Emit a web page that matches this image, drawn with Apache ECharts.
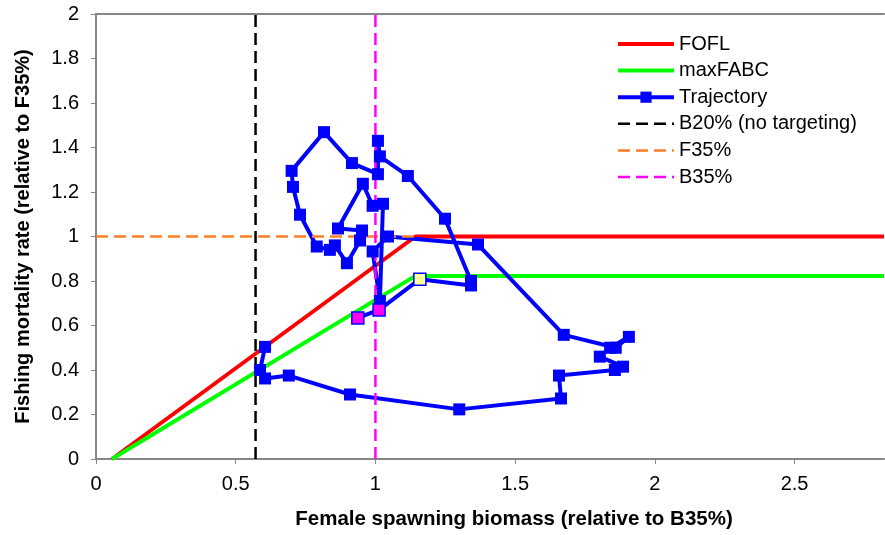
<!DOCTYPE html>
<html>
<head>
<meta charset="utf-8">
<script src="https://cdn.jsdelivr.net/npm/echarts@6/dist/echarts.min.js"></script>
<style>
html, body { margin: 0; padding: 0; background: #fff; }
#chart { width: 885px; height: 535px; }
</style>
</head>
<body>
<div id="chart"></div>
<script>
// harvest control rule (x = B/B35%, y = F/F35%)
var hcrX = [0.057, 1.143, 2.82];
var foflY = [0, 1, 1];
var abcY = [0, 0.823, 0.823];

// reference levels
var b20 = 0.571;
var f35 = 1;
var b35 = 1;

// stock trajectory, in time order
var trajB = [0.605, 0.587, 0.605, 0.69, 0.909, 1.30, 1.664, 1.657, 1.857, 1.886,
    1.803, 1.84, 1.907, 1.86, 1.674, 1.367, 1.045, 0.99, 1.016, 1.027,
    0.99, 0.955, 0.866, 0.952, 0.945, 0.898, 0.855, 0.837, 0.79, 0.73,
    0.705, 0.70, 0.816, 0.916, 1.009, 1.009, 1.016, 1.116, 1.249, 1.342,
    1.342, 1.159, 1.013, 0.937];
var trajF = [0.504, 0.40, 0.362, 0.375, 0.29, 0.223, 0.272, 0.375, 0.40, 0.415,
    0.46, 0.50, 0.549, 0.50, 0.558, 0.964, 1.0, 0.933, 0.71, 1.147,
    1.138, 1.237, 1.036, 1.027, 0.982, 0.88, 0.96, 0.94, 0.955, 1.098,
    1.223, 1.295, 1.469, 1.33, 1.28, 1.43, 1.36, 1.272, 1.08, 0.80,
    0.78, 0.808, 0.67, 0.634];
// last points: current year (yellow) and projections (magenta)
var trajFill = {41: '#ffff99', 42: '#ff00ff', 43: '#ff00ff'};

var xTicks = { min: 0, max: 2.82, interval: 0.5 };
var yTicks = { min: 0, max: 2, interval: 0.2 };

var chartDom = document.getElementById('chart');
var myChart = echarts.init(chartDom);
var option;

function pairs(xs, ys) {
    var out = [];
    for (var i = 0; i < xs.length; i++) {
        out.push([xs[i], ys[i]]);
    }
    return out;
}

var trajData = [];
for (var i = 0; i < trajB.length; i++) {
    var item = { value: [trajB[i], trajF[i]] };
    if (trajFill[i]) {
        item.itemStyle = { color: trajFill[i], borderColor: '#0000ff', borderWidth: 1.5 };
    }
    trajData.push(item);
}

var font = 'Liberation Sans';
var axisGray = '#868686';
// line-only legend entries: hide the marker ECharts puts on them
var noMark = { opacity: 0 };

option = {
    animation: false,
    backgroundColor: '#fff',
    textStyle: { fontFamily: font },
    grid: { left: 96, right: 1, top: 14, bottom: 73 },
    legend: {
        orient: 'vertical',
        left: 611,
        top: 29,
        itemWidth: 56,
        itemHeight: 14,
        itemGap: 6.6,
        textStyle: { fontFamily: font, fontSize: 20, color: '#000' },
        data: [
            { name: 'FOFL', itemStyle: noMark, lineStyle: { width: 4 } },
            { name: 'maxFABC', itemStyle: noMark, lineStyle: { width: 4 } },
            { name: 'Trajectory', lineStyle: { width: 4 } },
            { name: 'B20% (no targeting)', itemStyle: noMark, lineStyle: { width: 2.5 } },
            { name: 'F35%', itemStyle: noMark, lineStyle: { width: 2.5 } },
            { name: 'B35%', itemStyle: noMark, lineStyle: { width: 2.5 } }
        ]
    },
    xAxis: [{
        type: 'value',
        min: xTicks.min,
        max: xTicks.max,
        interval: xTicks.interval,
        name: 'Female spawning biomass (relative to B35%)',
        nameLocation: 'middle',
        nameGap: 50,
        nameTextStyle: { fontFamily: font, fontSize: 20.5, fontWeight: 'bold', color: '#000', padding: [0, 0, 0, 48] },
        axisLine: { lineStyle: { color: axisGray, width: 2 } },
        axisTick: { show: true, length: 5, lineStyle: { color: axisGray } },
        axisLabel: { fontFamily: font, fontSize: 20, color: '#000', margin: 15, showMaxLabel: false },
        splitLine: { show: false }
    }, {
        type: 'value',
        position: 'top',
        min: xTicks.min,
        max: xTicks.max,
        axisLine: { show: true, onZero: false, lineStyle: { color: axisGray, width: 2 } },
        axisTick: { show: false },
        axisLabel: { show: false },
        splitLine: { show: false }
    }],
    yAxis: {
        type: 'value',
        min: yTicks.min,
        max: yTicks.max,
        interval: yTicks.interval,
        name: 'Fishing mortality rate (relative to F35%)',
        nameLocation: 'middle',
        nameGap: 63,
        nameTextStyle: { fontFamily: font, fontSize: 20, fontWeight: 'bold', color: '#000' },
        axisLine: { show: true, lineStyle: { color: axisGray, width: 2 } },
        axisTick: { show: true, length: 5, lineStyle: { color: axisGray } },
        axisLabel: { fontFamily: font, fontSize: 20, color: '#000', margin: 17 },
        splitLine: { show: false }
    },
    series: [{
        name: 'FOFL',
        type: 'line',
        symbol: 'none',
        color: '#ff0000',
        lineStyle: { color: '#ff0000', width: 4 },
        data: pairs(hcrX, foflY)
    }, {
        name: 'maxFABC',
        type: 'line',
        symbol: 'none',
        color: '#00ff00',
        lineStyle: { color: '#00ff00', width: 4 },
        data: pairs(hcrX, abcY)
    }, {
        name: 'Trajectory',
        type: 'line',
        symbol: 'rect',
        symbolSize: 12,
        color: '#0000ff',
        itemStyle: { color: '#0000ff' },
        lineStyle: { color: '#0000ff', width: 4 },
        data: trajData
    }, {
        name: 'B20% (no targeting)',
        type: 'line',
        symbol: 'none',
        color: '#000000',
        lineStyle: { color: '#000000', width: 2.5, type: [12, 6] },
        data: [[b20, yTicks.min], [b20, yTicks.max]]
    }, {
        name: 'F35%',
        type: 'line',
        symbol: 'none',
        color: '#ff7f27',
        lineStyle: { color: '#ff7f27', width: 2.5, type: [12, 6] },
        data: [[xTicks.min, f35], [hcrX[1], f35]]
    }, {
        name: 'B35%',
        type: 'line',
        symbol: 'none',
        color: '#ff00ff',
        lineStyle: { color: '#ff00ff', width: 2.5, type: [12, 6] },
        data: [[b35, yTicks.min], [b35, yTicks.max]]
    }]
};

option && myChart.setOption(option);
</script>
</body>
</html>
